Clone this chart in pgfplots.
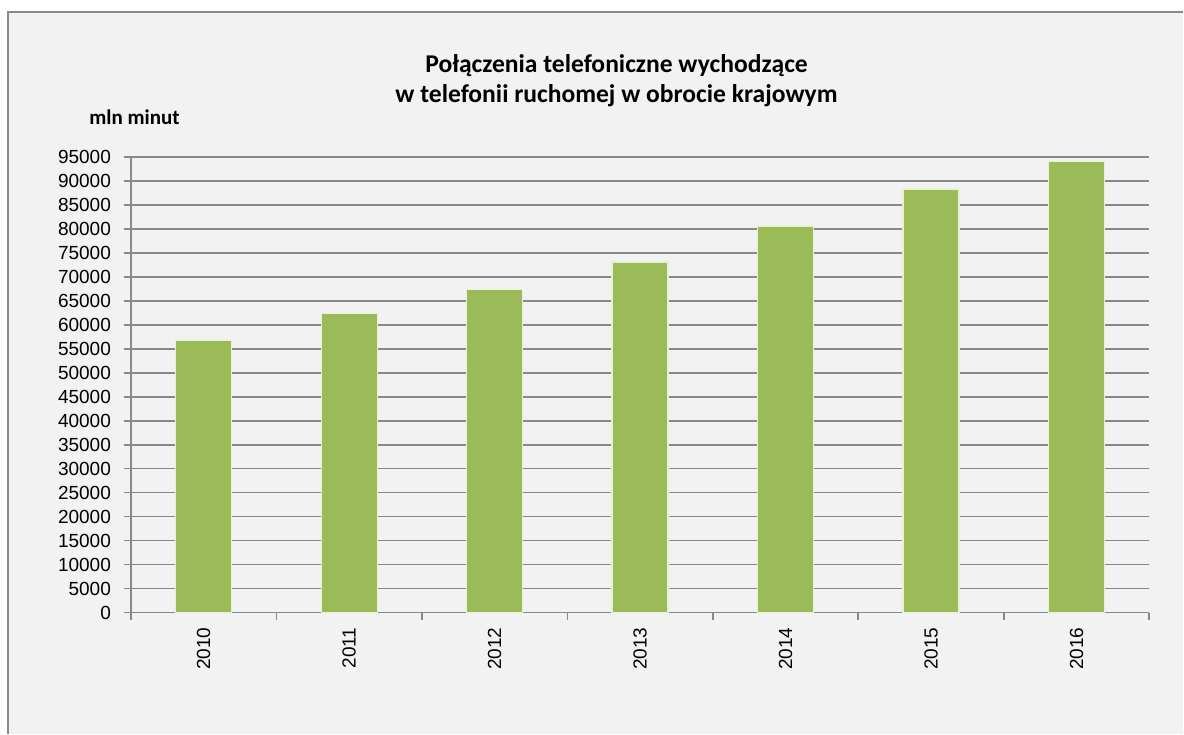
\documentclass[border=0pt]{standalone}
\usepackage{pgfplots}
\pgfplotsset{compat=1.18}
\usepackage{fontspec}
\setmainfont{Liberation Sans}
\newfontfamily\calibri{Carlito}
\definecolor{bgcol}{RGB}{242,242,242}
\definecolor{framecol}{RGB}{137,137,137}
\definecolor{gridcol}{RGB}{136,136,136}
\definecolor{barcol}{RGB}{155,187,89}
\definecolor{baredge}{RGB}{232,240,214}
\begin{document}
\begin{tikzpicture}
% 1 reference pixel = 0.5pt, y measured from the bottom
\fill[white] (0pt,0pt) rectangle (592pt,367pt);
\fill[bgcol] (4pt,0pt) rectangle (592pt,361pt);
\draw[framecol, line width=0.8pt] (4pt,0pt) -- (4pt,361pt) -- (592pt,361pt);
\node[anchor=base, font=\calibri\bfseries\fontsize{12.8}{15}\selectfont] at (308.5pt,330.5pt) {Połączenia telefoniczne wychodzące};
\node[anchor=base, font=\calibri\bfseries\fontsize{12.8}{15}\selectfont] at (308.5pt,315.5pt) {w telefonii ruchomej w obrocie krajowym};
\node[anchor=base west, inner sep=0pt, font=\calibri\bfseries\fontsize{10.5}{12}\selectfont] at (44.5pt,304.5pt) {mln minut};
\begin{axis}[
  at={(65.5pt,60.5pt)}, anchor=origin,
  scale only axis,
  width=509.5pt, height=228pt,
  xmin=0, xmax=7,
  ymin=0, ymax=95000,
  axis lines*=left,
  axis line style={gridcol, line width=0.8pt},
  ytick={0,5000,...,95000},
  xtick={0,...,7},
  xticklabels={},
  extra x ticks={0.5,1.5,...,6.5},
  extra x tick labels={2010,2011,2012,2013,2014,2015,2016},
  extra x tick style={major tick length=0pt, grid=none},
  tick align=outside,
  major tick length=3.5pt,
  tick style={gridcol, line width=0.8pt},
  ymajorgrids,
  grid style={gridcol, line width=0.8pt},
  scaled y ticks=false,
  /pgf/number format/assume math mode=true,
  /pgf/number format/set thousands separator={},
  ticklabel style={font=\fontsize{9.5}{11}\selectfont, text=black},
  yticklabel style={xshift=-3pt},
  xticklabel style={rotate=90, anchor=east, xshift=-4pt},
  ybar, bar width=28pt,
]
\addplot[fill=barcol, draw=baredge, line width=0.6pt] coordinates {
(0.5, 56700)
(1.5, 62400)
(2.5, 67300)
(3.5, 73100)
(4.5, 80600)
(5.5, 88300)
(6.5, 94100)
};
\end{axis}
\end{tikzpicture}
\end{document}
